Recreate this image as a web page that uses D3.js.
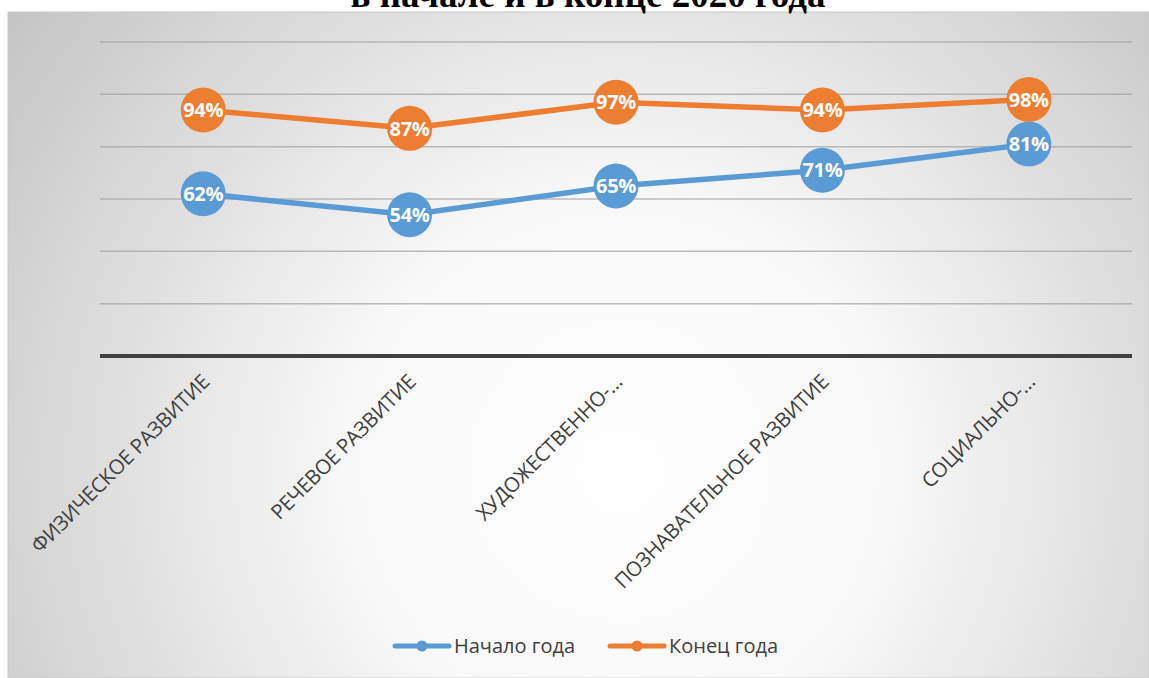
<!DOCTYPE html>
<html>
<head>
<meta charset="utf-8">
<script src="https://cdn.jsdelivr.net/npm/d3@7"></script>
<style>
  body { margin: 0; background: #fff; }
  text { font-family: "Open Sans", "Noto Sans", sans-serif; }
</style>
</head>
<body>
<div id="chart"></div>
<script>
// chart data
var categories = ['ФИЗИЧЕСКОЕ РАЗВИТИЕ', 'РЕЧЕВОЕ РАЗВИТИЕ', 'ХУДОЖЕСТВЕННО-…', 'ПОЗНАВАТЕЛЬНОЕ РАЗВИТИЕ', 'СОЦИАЛЬНО-…'];
var startValues = [62, 54, 65, 71, 81];
var endValues = [94, 87, 97, 94, 98];
var seriesNames = ['Начало года', 'Конец года'];
var yTicks = [0, 20, 40, 60, 80, 100, 120];
var titleText = 'в начале и в конце 2020 года';

var width = 1149, height = 678;
var plot = { left: 100, right: 1132, top: 42, bottom: 356 };
var colors = ['#5B9BD5', '#ED7D31'];

var svg = d3.select('#chart')
    .append('svg')
    .attr('width', width)
    .attr('height', height);

// background gradient of the chart box
var defs = svg.append('defs');
var grad = defs.append('radialGradient')
    .attr('id', 'bg')
    .attr('gradientUnits', 'userSpaceOnUse')
    .attr('cx', 620).attr('cy', 470).attr('r', 780);
grad.append('stop').attr('offset', '0%').attr('stop-color', '#ffffff');
grad.append('stop').attr('offset', '35%').attr('stop-color', '#f8f8f8');
grad.append('stop').attr('offset', '100%').attr('stop-color', '#c2c2c2');

svg.append('rect')
    .attr('x', 8).attr('y', 12)
    .attr('width', width - 8).attr('height', height - 12)
    .attr('fill', 'url(#bg)')
    .attr('stroke', '#c8c8c8')
    .attr('stroke-width', 1);

// title, cut by the top edge as in the source
svg.append('text')
    .attr('x', 588).attr('y', 7)
    .attr('text-anchor', 'middle')
    .style('font-family', '"Liberation Serif", serif')
    .style('font-weight', 'bold')
    .style('font-size', '37px')
    .attr('fill', '#000')
    .text(titleText);

var x = d3.scalePoint()
    .domain(categories)
    .range([plot.left, plot.right])
    .padding(0.5);

var y = d3.scaleLinear()
    .domain([0, 120])
    .range([plot.bottom, plot.top]);

// gridlines
svg.append('g')
    .selectAll('line')
    .data(yTicks.filter(function(d) { return d > 0; }))
    .enter()
    .append('line')
    .attr('x1', plot.left).attr('x2', plot.right)
    .attr('y1', function(d) { return y(d); })
    .attr('y2', function(d) { return y(d); })
    .attr('stroke', '#a6a6a6')
    .attr('stroke-opacity', 0.75)
    .attr('stroke-width', 1.5);

// x axis
var xAxis = svg.append('g')
    .attr('transform', 'translate(0,' + plot.bottom + ')')
    .call(d3.axisBottom(x).tickSize(0).tickPadding(0));
xAxis.select('.domain')
    .attr('d', 'M' + plot.left + ',0H' + plot.right)
    .attr('stroke', '#404040')
    .attr('stroke-width', 4);
xAxis.selectAll('.tick text')
    .attr('text-anchor', 'end')
    .attr('transform', 'translate(2,22) rotate(-45)')
    .attr('dy', '0.35em')
    .attr('y', 0)
    .attr('fill', '#404040')
    .style('font-size', '20.5px')
    .style('font-family', '"Open Sans", sans-serif')
    .style('letter-spacing', '-0.3px');

var series = [startValues, endValues];
var line = d3.line()
    .x(function(d, i) { return x(categories[i]); })
    .y(function(d) { return y(d); });

series.forEach(function(vals, s) {
    var g = svg.append('g').attr('class', 'series');
    g.append('path')
        .datum(vals)
        .attr('d', line)
        .attr('fill', 'none')
        .attr('stroke', colors[s])
        .attr('stroke-width', 5.5)
        .attr('stroke-linecap', 'round');
    g.selectAll('circle')
        .data(vals)
        .enter()
        .append('circle')
        .attr('cx', function(d, i) { return x(categories[i]); })
        .attr('cy', function(d) { return y(d); })
        .attr('r', 22.5)
        .attr('fill', colors[s]);
    g.selectAll('text')
        .data(vals)
        .enter()
        .append('text')
        .attr('x', function(d, i) { return x(categories[i]); })
        .attr('y', function(d) { return y(d); })
        .attr('dy', '0.36em')
        .attr('text-anchor', 'middle')
        .attr('fill', '#fff')
        .style('font-weight', 'bold')
        .style('font-size', '20px')
        .style('letter-spacing', '-0.3px')
        .text(function(d) { return d + '%'; });
});

// legend
var legendX = [393, 608];
var legend = svg.append('g');
seriesNames.forEach(function(name, i) {
    var lg = legend.append('g').attr('transform', 'translate(' + legendX[i] + ',646)');
    lg.append('line')
        .attr('x1', 2).attr('x2', 56)
        .attr('stroke', colors[i])
        .attr('stroke-width', 5)
        .attr('stroke-linecap', 'round');
    lg.append('circle')
        .attr('cx', 29).attr('r', 5.5)
        .attr('fill', colors[i]);
    lg.append('text')
        .attr('x', 61).attr('dy', '0.35em')
        .attr('fill', '#404040')
        .style('font-size', '20px')
        .text(name);
});
</script>
</body>
</html>
